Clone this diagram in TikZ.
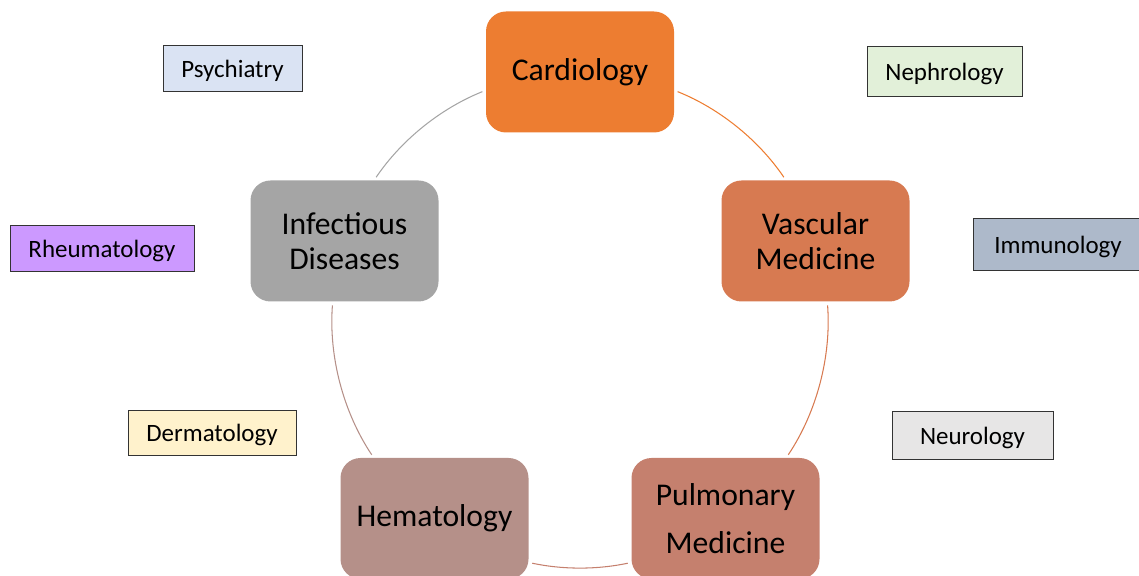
\documentclass[tikz,border=0pt]{standalone}
\usepackage{fontspec}
\setmainfont{Carlito}
\usepackage{xcolor}
\usepackage{tikz}
\usetikzlibrary{positioning,calc}

\definecolor{cardio}{HTML}{ED7D31}
\definecolor{vascul}{HTML}{D77A51}
\definecolor{pulmo}{HTML}{C5806E}
\definecolor{hemato}{HTML}{B59089}
\definecolor{infect}{HTML}{A5A5A5}
\definecolor{psychc}{HTML}{DAE3F3}
\definecolor{nephrc}{HTML}{E2F0D9}
\definecolor{immunc}{HTML}{ADB9CA}
\definecolor{neuroc}{HTML}{E7E6E6}
\definecolor{dermac}{HTML}{FFF2CC}
\definecolor{rheumc}{HTML}{CC99FF}

\begin{document}
\begin{tikzpicture}[
        dept/.style={rectangle, rounded corners=0.4cm, minimum width=3.76cm, minimum height=2.42cm, font=\fontsize{18}{20}\selectfont, align=center, inner sep=0pt},
        spec/.style={rectangle, draw=black!80, line width=0.5pt, font=\fontsize{14.2}{16}\selectfont, text height=10.5pt, text depth=0pt, inner sep=0pt},
        link/.style={line width=0.6pt, looseness=0.87, shorten >=0.07cm, shorten <=0.07cm},
      ]
      \useasboundingbox (0, 0) rectangle (22.78, 11.52);
      % Main cycle
      \node [dept, fill=cardio] (card) at (11.60, 10.08) {Cardiology};
      \node [dept, fill=vascul] (vasc) at (16.31, 6.70) {Vascular\\Medicine};
      \node [dept, fill=pulmo] (pulm) at (14.51, 1.15) {Pulmonary\\[0.27cm]Medicine};
      \node [dept, fill=hemato] (hema) at (8.69, 1.15) {Hematology};
      \node [dept, fill=infect] (infd) at (6.89, 6.70) {Infectious\\Diseases};
      \draw [link, draw=cardio] (card.-11) to[bend left=17] (vasc.116);
      \draw [link, draw=vascul] (vasc.-79) to[bend left=19] (pulm.45);
      \draw [link, draw=pulmo] (pulm.-155) to[bend left=12] (hema.-25);
      \draw [link, draw=hemato] (hema.135) to[bend left=19] (infd.-101);
      \draw [link, draw=infect] (infd.64) to[bend left=17] (card.191);
      % Other specialties
      \node [spec, fill=psychc, minimum width=2.78cm, minimum height=0.92cm] (psych) at (4.65, 10.16) {Psychiatry};
      \node [spec, fill=nephrc, minimum width=3.10cm, minimum height=1.00cm] (nephro) at (18.89, 10.10) {Nephrology};
      \node [spec, fill=immunc, minimum width=3.40cm, minimum height=1.04cm] (immuno) at (21.16, 6.64) {Immunology};
      \node [spec, fill=neuroc, minimum width=3.22cm, minimum height=0.96cm] (neuro) at (19.45, 2.82) {Neurology};
      \node [spec, fill=dermac, minimum width=3.36cm, minimum height=0.90cm] (derma) at (4.24, 2.87) {Dermatology};
      \node [spec, fill=rheumc, minimum width=3.68cm, minimum height=0.92cm] (rheum) at (2.04, 6.56) {Rheumatology};
    \end{tikzpicture}
\end{document}
